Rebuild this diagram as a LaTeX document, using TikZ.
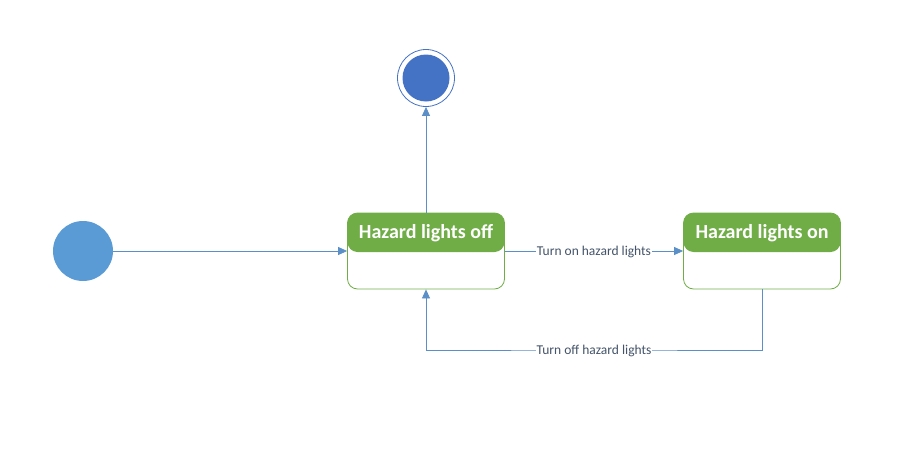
\documentclass[tikz,border=0pt]{standalone}
\usepackage{fontspec}
\setmainfont{Carlito}
\usetikzlibrary{arrows.meta}

\definecolor{hgreen}{HTML}{70AD47}
\definecolor{initblue}{HTML}{5B9BD5}
\definecolor{finalblue}{HTML}{4472C4}
\definecolor{lineblue}{HTML}{5B8FC7}
\definecolor{labelgray}{HTML}{44546A}

\begin{document}
\begin{tikzpicture}[x = 1pt, y = -1pt, font = \fontsize{13.5}{16}\selectfont,
        state/.style = {draw = hgreen, line width = 0.8pt, rounded corners = 10pt,
            minimum width = 157pt, minimum height = 76pt, inner sep = 0pt,
            path picture = {\fill[hgreen] (path picture bounding box.north west)
                rectangle ([yshift = -39pt]path picture bounding box.north east);}},
        head/.style = {text = white, font = \fontsize{20}{24}\selectfont\bfseries},
        trans/.style = {draw = lineblue, line width = 0.8pt, -{Triangle[length = 9pt, width = 8pt]}},
        lbl/.style = {fill = white, text = labelgray, inner sep = 0.5pt, yshift = -1pt}]
        \useasboundingbox (0,0) rectangle (919,474);
        
        \node[circle, fill = initblue, minimum size = 60pt, inner sep = 0pt] (init) at (83,251) {};
        
        \node[circle, draw = finalblue, line width = 0.8pt, minimum size = 57pt, inner sep = 0pt] (final) at (426,78) {};
        \node[circle, fill = finalblue, minimum size = 47pt, inner sep = 0pt] (finaldot) at (final) {};
        
        \node[state] (off) at (426,251) {};
        \node[head] (offtext) at ([yshift = -21pt]off.north) {Hazard lights off};
        
        \node[state] (on) at (762,251) {};
        \node[head] (ontext) at ([yshift = -21pt]on.north) {Hazard lights on};
        
        \draw[trans] (init) -- (off);
        \draw[trans] (off) -- (final);
        \draw[trans] (off) -- node[lbl]{Turn on hazard lights} (on);
        
        \coordinate (back) at (594,350);
        \draw[trans] (on.south) |- (back) -| (off.south);
        \node[lbl] (backlbl) at (back) {Turn off hazard lights};
    \end{tikzpicture}
\end{document}
